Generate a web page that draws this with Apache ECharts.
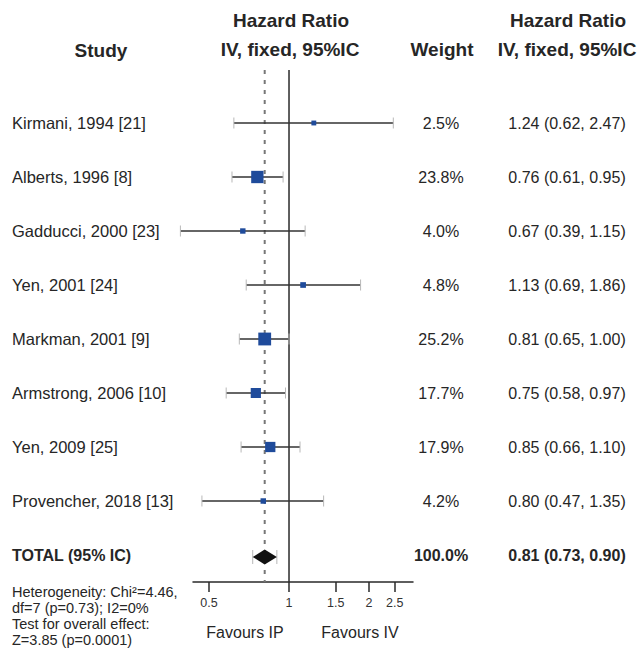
<!DOCTYPE html>
<html>
<head>
<meta charset="utf-8">
<script src="https://cdn.jsdelivr.net/npm/echarts@6/dist/echarts.min.js"></script>
<style>html,body{margin:0;padding:0;background:#fff}#c{width:642px;height:653px}</style>
</head>
<body>
<div id="c"></div>
<script>
// ---- data ----
const studies = ['Kirmani, 1994 [21]', 'Alberts, 1996 [8]', 'Gadducci, 2000 [23]', 'Yen, 2001 [24]',
  'Markman, 2001 [9]', 'Armstrong, 2006 [10]', 'Yen, 2009 [25]', 'Provencher, 2018 [13]'];
const hr = [1.24, 0.76, 0.67, 1.13, 0.81, 0.75, 0.85, 0.80];
const ciLow = [0.62, 0.61, 0.39, 0.69, 0.65, 0.58, 0.66, 0.47];
const ciHigh = [2.47, 0.95, 1.15, 1.86, 1.00, 0.97, 1.10, 1.35];
const weights = [2.5, 23.8, 4.0, 4.8, 25.2, 17.7, 17.9, 4.2];
const totalLabel = 'TOTAL (95% IC)';
const totalHr = 0.81, totalLow = 0.73, totalHigh = 0.90, totalWeight = 100.0;
const tickValues = [0.5, 1, 1.5, 2, 2.5];
const tickLabels = ['0.5', '1', '1.5', '2', '2.5'];
const axisMinHr = 0.435, axisMaxHr = 2.93;
const heterogeneityText = 'Heterogeneity: Chi\u00B2=4.46,\ndf=7 (p=0.73); I2=0%\nTest for overall effect:\nZ=3.85 (p=0.0001)';

// ---- build ----
const L = Math.log10;
const FONT = '"Liberation Sans", Arial, Helvetica, sans-serif';
const TXT = '#262626';
const rows = studies.concat([totalLabel]);
const weightLabels = weights.map(w => w.toFixed(1) + '%').concat([totalWeight.toFixed(1) + '%']);
const fmtCI = (h, l, u) => h.toFixed(2) + ' (' + l.toFixed(2) + ', ' + u.toFixed(2) + ')';
const hrLabels = hr.map((h, i) => fmtCI(h, ciLow[i], ciHigh[i])).concat([fmtCI(totalHr, totalLow, totalHigh)]);
const lastIdx = rows.length - 1;
const boldFmt = (v, i) => i === lastIdx ? '{b|' + v + '}' : v;
const rich = { b: { fontWeight: 'bold', fontSize: 16, color: TXT, fontFamily: FONT } };

const studyData = studies.map((s, i) => [L(ciLow[i]), i, L(hr[i]), L(ciHigh[i]), weights[i]]);
const totalData = [[L(totalLow), lastIdx, L(totalHr), L(totalHigh)]];
const refData = [[L(1), 0], [L(totalHr), 0]];

function capLines(p, half) {
  return { type: 'line', shape: { x1: p[0], y1: p[1] - half, x2: p[0], y2: p[1] + half },
    style: { stroke: '#b8b8b8', lineWidth: 1 } };
}

const chart = echarts.init(document.getElementById('c'), null, { renderer: 'svg' });
chart.setOption({
  animation: false,
  backgroundColor: '#fff',
  textStyle: { fontFamily: FONT },
  grid: { left: 193, width: 220, top: 96, height: 486 },
  xAxis: {
    type: 'value', min: L(axisMinHr), max: L(axisMaxHr),
    axisLine: { show: true, onZero: false, lineStyle: { color: '#2a2a2a', width: 1.5 } },
    axisTick: { show: true, customValues: tickValues.map(L), length: 10, lineStyle: { color: '#2a2a2a', width: 1.5 } },
    axisLabel: {
      customValues: tickValues.map(L), margin: 14, fontSize: 12.5, color: '#333', fontFamily: FONT,
      formatter: v => {
        let best = 0;
        tickValues.forEach((t, i) => { if (Math.abs(L(t) - v) < Math.abs(L(tickValues[best]) - v)) best = i; });
        return tickLabels[best];
      }
    },
    splitLine: { show: false }
  },
  yAxis: [
    { type: 'category', data: rows, inverse: true, position: 'left',
      axisLine: { show: false }, axisTick: { show: false }, splitLine: { show: false },
      axisLabel: { interval: 0, margin: 181, align: 'left', fontSize: 16.5, color: TXT, fontFamily: FONT, formatter: boldFmt, rich: rich } },
    { type: 'category', data: weightLabels, inverse: true, position: 'right',
      axisLine: { show: false }, axisTick: { show: false }, splitLine: { show: false },
      axisLabel: { interval: 0, margin: 28, align: 'center', fontSize: 16, color: TXT, fontFamily: FONT, formatter: boldFmt, rich: rich } },
    { type: 'category', data: hrLabels, inverse: true, position: 'right',
      axisLine: { show: false }, axisTick: { show: false }, splitLine: { show: false },
      axisLabel: { interval: 0, margin: 154, align: 'center', fontSize: 16, color: TXT, fontFamily: FONT, formatter: boldFmt, rich: rich } }
  ],
  series: [
    { type: 'custom', name: 'ref', data: refData, encode: { x: 0, y: 1 }, z: 1, clip: false,
      renderItem: (params, api) => {
        const x = api.coord([api.value(0), 0])[0];
        const cs = params.coordSys;
        const top = cs.y - 26, bottom = cs.y + cs.height;
        if (params.dataIndex === 0) {
          return { type: 'line', shape: { x1: x, y1: top, x2: x, y2: bottom }, style: { stroke: '#2a2a2a', lineWidth: 1.5 } };
        }
        return { type: 'line', shape: { x1: x, y1: top, x2: x, y2: bottom }, style: { stroke: '#777', lineWidth: 2, lineDash: [4, 6] } };
      } },
    { type: 'custom', name: 'studies', data: studyData, encode: { x: [0, 2, 3], y: 1 }, z: 3, clip: false,
      renderItem: (params, api) => {
        const r = api.value(1);
        const pLo = api.coord([api.value(0), r]);
        const pHr = api.coord([api.value(2), r]);
        const pHi = api.coord([api.value(3), r]);
        const s = 4 + 0.35 * api.value(4);
        return { type: 'group', children: [
          { type: 'line', shape: { x1: pLo[0], y1: pLo[1], x2: pHi[0], y2: pHi[1] }, style: { stroke: '#333', lineWidth: 1.5 } },
          capLines(pLo, 5.5), capLines(pHi, 5.5),
          { type: 'rect', shape: { x: pHr[0] - s / 2, y: pHr[1] - s / 2, width: s, height: s }, style: { fill: '#1f4b9b' } }
        ] };
      } },
    { type: 'custom', name: 'total', data: totalData, encode: { x: [0, 2, 3], y: 1 }, z: 3, clip: false,
      renderItem: (params, api) => {
        const r = api.value(1);
        const pLo = api.coord([api.value(0), r]);
        const pHr = api.coord([api.value(2), r]);
        const pHi = api.coord([api.value(3), r]);
        const y = pHr[1] + 2, h = 7.5;
        return { type: 'group', children: [
          capLines([pLo[0], y], 7), capLines([pHi[0], y], 7),
          { type: 'polygon', shape: { points: [[pLo[0], y], [pHr[0], y - h], [pHi[0], y], [pHr[0], y + h]] }, style: { fill: '#111' } }
        ] };
      } }
  ],
  graphic: [
    { type: 'text', x: 291, y: 20, style: { text: 'Hazard Ratio', align: 'center', verticalAlign: 'middle', fontSize: 19, fontWeight: 'bold', fontFamily: FONT, fill: TXT } },
    { type: 'text', x: 290, y: 49, style: { text: 'IV, fixed, 95%IC', align: 'center', verticalAlign: 'middle', fontSize: 19, fontWeight: 'bold', fontFamily: FONT, fill: TXT } },
    { type: 'text', x: 101, y: 50, style: { text: 'Study', align: 'center', verticalAlign: 'middle', fontSize: 19, fontWeight: 'bold', fontFamily: FONT, fill: TXT } },
    { type: 'text', x: 442, y: 49, style: { text: 'Weight', align: 'center', verticalAlign: 'middle', fontSize: 19, fontWeight: 'bold', fontFamily: FONT, fill: TXT } },
    { type: 'text', x: 568, y: 20, style: { text: 'Hazard Ratio', align: 'center', verticalAlign: 'middle', fontSize: 19, fontWeight: 'bold', fontFamily: FONT, fill: TXT } },
    { type: 'text', x: 567, y: 49, style: { text: 'IV, fixed, 95%IC', align: 'center', verticalAlign: 'middle', fontSize: 19, fontWeight: 'bold', fontFamily: FONT, fill: TXT } },
    { type: 'text', x: 245, y: 632, style: { text: 'Favours IP', align: 'center', verticalAlign: 'middle', fontSize: 16, fontFamily: FONT, fill: TXT } },
    { type: 'text', x: 360, y: 632, style: { text: 'Favours IV', align: 'center', verticalAlign: 'middle', fontSize: 16, fontFamily: FONT, fill: TXT } },
    { type: 'text', x: 12, y: 584, style: { text: heterogeneityText, align: 'left', verticalAlign: 'top', fontSize: 14.5, lineHeight: 16, fontFamily: FONT, fill: TXT } }
  ]
});
</script>
</body>
</html>
